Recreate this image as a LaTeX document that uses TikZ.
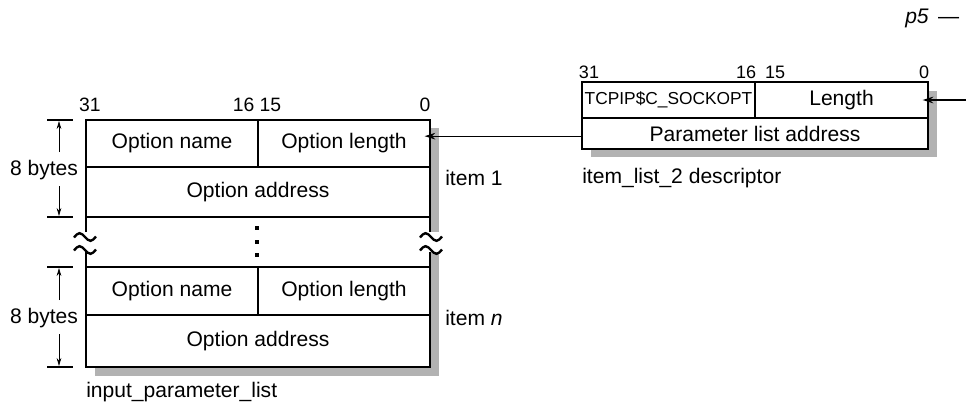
\documentclass[tikz,border=0pt]{standalone}
\usepackage{fontspec}
\setmainfont{Liberation Sans}
\usetikzlibrary{arrows.meta}
\newdimen\pxu \pxu=0.75pt
\begin{document}
\begin{tikzpicture}[x=0.75pt,y=-0.75pt,
  cell/.style={draw, line width=0.8pt, inner sep=0pt, outer sep=0pt, fill=white, font=\fontsize{15.8}{18}\selectfont},
  outline/.style={line width=2pt},
  shadowfill/.style={fill=black!30},
  lbl/.style={font=\fontsize{15.8}{18}\selectfont, inner sep=0pt},
  numl/.style={font=\fontsize{14.5}{16}\selectfont, inner sep=0pt},
  numr/.style={font=\fontsize{13.5}{15}\selectfont, inner sep=0pt},
  arr/.style={line width=0.8pt, -{Stealth[length=8pt,width=5pt]}},
  dimarr/.style={line width=0.6pt, -{Stealth[length=6pt,width=3.5pt]}},
  tickln/.style={line width=0.8pt},
  tilde/.pic={\draw[line width=1.8pt, fill=none] (-11,0.5) sin (-5.5,-3.8) cos (0,0) sin (5.5,3.8) cos (11,-0.5);},
  ]
\useasboundingbox (0,0) rectangle (966,404);

% shadows
\fill[shadowfill] (95,128) rectangle (439,232);
\fill[shadowfill] (95,252) rectangle (439,376);
\fill[shadowfill] (591,91) rectangle (937,157);
\fill[white] (86,120) rectangle (430,367);

% left structure
\node[cell, minimum width=172\pxu, minimum height=47\pxu] (nameA) at (172,143.5) {Option name};
\node[cell, minimum width=172\pxu, minimum height=47\pxu] (lenA) at (344,143.5) {Option length};
\node[cell, minimum width=344\pxu, minimum height=50\pxu] (addrA) at (258,192) {Option address};
\node[cell, minimum width=172\pxu, minimum height=48\pxu] (nameB) at (172,291) {Option name};
\node[cell, minimum width=172\pxu, minimum height=48\pxu] (lenB) at (344,291) {Option length};
\node[cell, minimum width=344\pxu, minimum height=52\pxu] (addrB) at (258,341) {Option address};

\foreach \yy in {228,242,255} \fill (255,\yy-2) rectangle (259,\yy+2);

\draw[outline] (86,232) -- (86,120) -- (430,120) -- (430,232);
\draw[outline] (86,252) -- (86,367) -- (430,367) -- (430,252);
\pic at (85,237) {tilde};
\pic at (85,250) {tilde};
\pic at (431,237) {tilde};
\pic at (431,250) {tilde};

% bit numbers left
\node[numl] (l31) at (90,105) {31};
\node[numl] (l1615) at (257,105) {16 15};
\node[numl] (l0) at (425,105) {0};

% dimensions
\draw[tickln] (47,120) -- (73,120);
\draw[tickln] (47,217) -- (73,217);
\draw[tickln] (47,267) -- (73,267);
\draw[tickln] (47,367) -- (73,367);
\coordinate (d1t) at (59,121);
\coordinate (d1b) at (59,216);
\coordinate (d2t) at (59,268);
\coordinate (d2b) at (59,366);
\node[lbl] (dimA) at (44,170) {8 bytes};
\node[lbl] (dimB) at (44,318) {8 bytes};
\draw[dimarr] (59,152) -- (d1t);
\draw[dimarr] (59,186) -- (d1b);
\draw[dimarr] (59,300) -- (d2t);
\draw[dimarr] (59,334) -- (d2b);

% item labels
\node[lbl, anchor=west] (it1) at (445,178) {item 1};
\node[lbl, anchor=west] (itn) at (445,318) {item \textit{n}};
\node[lbl, anchor=west] (ipl) at (86,392) {input\_parameter\_list};

% right descriptor
\node[cell, font=\fontsize{13}{15}\selectfont, minimum width=173\pxu, minimum height=36\pxu] (tcp) at (668.5,100) {TCPIP\$C\_SOCKOPT};
\node[cell, minimum width=173\pxu, minimum height=36\pxu] (rlen) at (841.5,100) {Length};
\node[cell, minimum width=346\pxu, minimum height=31\pxu] (raddr) at (755,133.5) {Parameter list address};
\draw[outline] (582,82) rectangle (928,149);

\node[numr] (r31) at (589,72) {31};
\node[numr] (r16) at (746,72) {16};
\node[numr] (r15) at (775,72) {15};
\node[numr] (r0) at (924,72) {0};

\node[lbl, anchor=west] (idesc) at (582,178) {item\_list\_2 descriptor};

% connectors
\coordinate (ext) at (966,100);
\draw[arr, shorten >=-4pt] (ext) -- (ext -| rlen.east);
\draw[arr, shorten >=-4pt] ([yshift=-2pt]raddr.west) -- ([yshift=-2pt]raddr.west -| lenA.east);

% page mark
\node[lbl, anchor=west] (p5) at (905,18) {\textit{p5} \,—};
\end{tikzpicture}
\end{document}
